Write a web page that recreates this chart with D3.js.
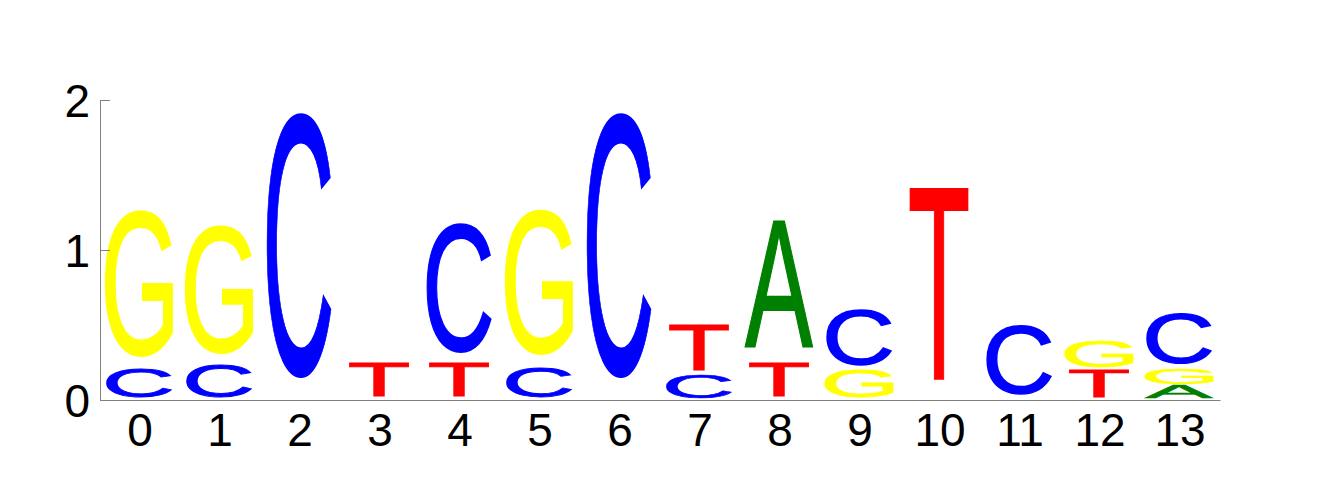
<!DOCTYPE html>
<html>
<head>
<meta charset="utf-8">
<script src="https://cdn.jsdelivr.net/npm/d3@7"></script>
<style>
  body { margin: 0; background: #fff; }
</style>
</head>
<body>
<div id="logo"></div>
<script>
const positions = ["0", "1", "2", "3", "4", "5", "6", "7", "8", "9", "10", "11", "12", "13"];
// letter heights in bits, one entry per position
const bitsA = [0, 0, 0, 0, 0, 0, 0, 0, 0.94, 0, 0, 0, 0, 0.096];
const bitsC = [0.21, 0.24, 1.91, 0, 0.93, 0.22, 1.91, 0.167, 0, 0.40, 0, 0.50, 0, 0.36];
const bitsG = [1.05, 0.92, 0, 0, 0, 1.04, 0, 0, 0, 0.20, 0, 0, 0.19, 0.116];
const bitsT = [0, 0, 0, 0.25, 0.25, 0, 0, 0.33, 0.25, 0, 1.42, 0, 0.20, 0];
// stacking order, bottom to top
const stackOrder = ["CG", "CG", "C", "T", "TC", "CG", "C", "CT", "TA", "GC", "T", "C", "TG", "AGC"];
const yTicks = [0, 1, 2];

const bits = {A: bitsA, C: bitsC, G: bitsG, T: bitsT};
const letterColor = {A: "#008000", C: "#0000ff", G: "#ffff00", T: "#ff0000"};
const letterWidth = {A: 0.85, C: 0.8, G: 0.84, T: 0.73};
const letterPad = {A: 0.1, C: 0.08, G: 0.08, T: 0.1};

const width = 1320;
const height = 500;

const x = d3.scaleBand()
    .domain(positions)
    .range([100, 1220]);

const y = d3.scaleLinear()
    .domain([0, 2])
    .range([400, 100]);

const svg = d3.select("#logo")
    .append("svg")
    .attr("width", width)
    .attr("height", height);

// measure the ink box of every glyph so it can be stretched into its cell
const ctx = document.createElement("canvas").getContext("2d");
ctx.font = "200px 'Liberation Sans'";
const ink = {};
["A", "C", "G", "T"].forEach(function(l) {
    const m = ctx.measureText(l);
    ink[l] = {
        left: m.actualBoundingBoxLeft,
        right: m.actualBoundingBoxRight,
        ascent: m.actualBoundingBoxAscent,
        descent: m.actualBoundingBoxDescent
    };
});

const letters = [];
positions.forEach(function(p, i) {
    let base = 0;
    stackOrder[i].split("").forEach(function(l) {
        const h = bits[l][i];
        letters.push({pos: p, letter: l, y0: base, y1: base + h});
        base += h;
    });
});

svg.append("g")
    .selectAll("text")
    .data(letters)
    .enter()
    .append("text")
    .attr("font-family", "'Liberation Sans'")
    .attr("font-size", 200)
    .attr("fill", d => letterColor[d.letter])
    .attr("stroke", d => letterColor[d.letter])
    .attr("stroke-width", 1.5)
    .attr("vector-effect", "non-scaling-stroke")
    .attr("transform", function(d) {
        const k = ink[d.letter];
        const w = x.bandwidth() * letterWidth[d.letter];
        const boxH = y(d.y0) - y(d.y1);
        const h = boxH * (1 - letterPad[d.letter]);
        const x0 = x(d.pos) + (x.bandwidth() - w) / 2 - 1;
        const sx = w / (k.left + k.right);
        const sy = h / (k.ascent + k.descent);
        return "translate(" + x0 + "," + y(d.y1) + ") scale(" + sx + "," + sy + ") translate(" + k.left + "," + k.ascent + ")";
    })
    .text(d => d.letter);

const yAxis = svg.append("g")
    .attr("transform", "translate(100,0)")
    .call(d3.axisLeft(y).tickValues(yTicks).tickFormat(d3.format("d")).tickSizeInner(-10).tickSizeOuter(0).tickPadding(10));

const xAxis = svg.append("g")
    .attr("transform", "translate(0,400)")
    .call(d3.axisBottom(x).tickSize(0).tickPadding(13));

[yAxis, xAxis].forEach(function(g) {
    g.select(".domain").attr("stroke", "#808080");
    g.selectAll(".tick line").attr("stroke", "#808080");
    g.selectAll("text")
        .attr("font-family", "'Liberation Sans'")
        .attr("font-size", 46)
        .attr("fill", "#000");
});
yAxis.selectAll("text").attr("dy", "0.36em");
</script>
</body>
</html>
